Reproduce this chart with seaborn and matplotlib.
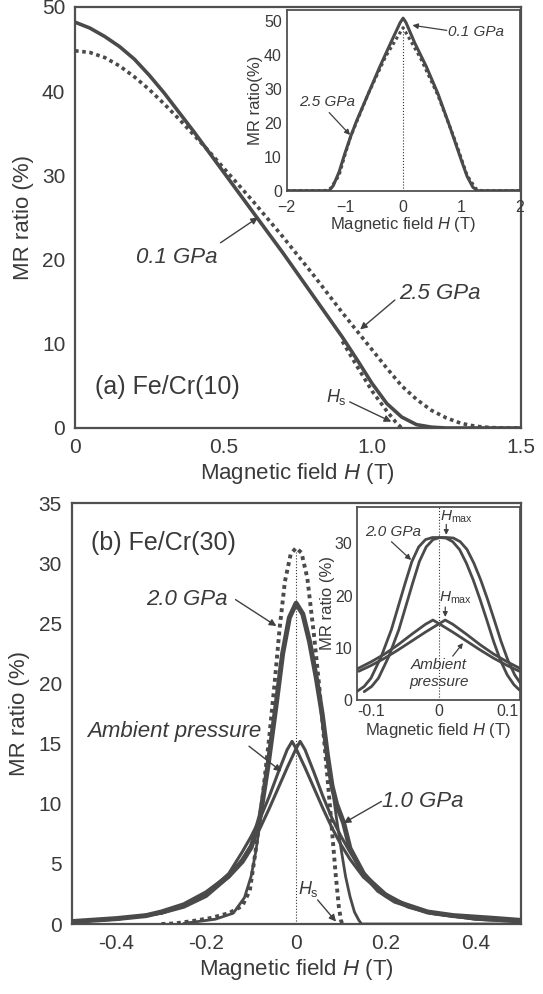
import numpy as np
import pandas as pd
import matplotlib
matplotlib.use("Agg")
import matplotlib.pyplot as plt
from matplotlib.ticker import MultipleLocator
import seaborn as sns

# ---------------- data ----------------
# Panel (a) Fe/Cr(10)
a_H_01 = [0, 0.05, 0.1, 0.15, 0.2, 0.25, 0.3, 0.35, 0.4, 0.45, 0.5, 0.55, 0.6, 0.65, 0.7, 0.75, 0.8, 0.85,
          0.9, 0.95, 1.0, 1.05, 1.1, 1.15, 1.2, 1.25, 1.5]
a_MR_01 = [48.2, 47.5, 46.5, 45.3, 43.8, 41.9, 39.8, 37.5, 35.2, 32.8, 30.4, 28.0, 25.6, 23.2, 20.8, 18.3, 15.8, 13.3,
           10.8, 8.1, 5.3, 2.9, 1.3, 0.4, 0.1, 0.0, 0.0]
a_H_25 = [0, 0.05, 0.1, 0.15, 0.2, 0.25, 0.3, 0.35, 0.4, 0.45, 0.5, 0.55, 0.6, 0.65, 0.7, 0.75, 0.8, 0.85,
          0.9, 0.95, 1.0, 1.05, 1.1, 1.15, 1.2, 1.25, 1.3, 1.35, 1.4, 1.45, 1.5]
a_MR_25 = [44.8, 44.6, 44.0, 43.0, 41.7, 40.2, 38.5, 36.7, 34.8, 32.9, 30.9, 28.9, 26.9, 24.8, 22.7, 20.5, 18.3, 16.0,
           13.7, 11.5, 9.3, 7.1, 5.0, 3.4, 2.1, 1.2, 0.55, 0.2, 0.05, 0.0, 0.0]
a_H_fit = [0.9, 0.95, 1.0, 1.05, 1.08, 1.1]
a_MR_fit = [10.3, 7.3, 4.4, 2.0, 0.7, 0.0]

# Inset (a)
ai_H_01 = [-2, -1.4, -1.27, -1.2, -1.1, -1.0, -0.9, -0.8, -0.6, -0.4, -0.2, -0.05, 0, 0.05, 0.2, 0.4, 0.6, 0.8,
           0.9, 1.0, 1.1, 1.2, 1.28, 2]
ai_MR_01 = [0, 0, 0, 1.5, 5.5, 11.0, 16.0, 20.5, 28.5, 36.5, 44.0, 49.5, 50.8, 49.5, 43.5, 36.5, 28.5, 19.0,
            14.0, 9.0, 4.2, 1.0, 0, 0]
ai_H_25 = [-2, -1.35, -1.25, -1.1, -1.0, -0.9, -0.6, -0.3, 0, 0.3, 0.6, 0.9, 1.0, 1.1, 1.25, 1.35, 2]
ai_MR_25 = [0, 0, 0.6, 4.5, 10.5, 16.0, 28.5, 39.5, 48.0, 39.0, 28.0, 14.5, 9.5, 4.5, 0.6, 0, 0]

# Panel (b) Fe/Cr(30)
b_H_20 = [-0.30, -0.27, -0.23, -0.19, -0.15, -0.12, -0.103, -0.089, -0.075, -0.06, -0.048, -0.037, -0.025, -0.012, 0,
          0.012, 0.025, 0.04, 0.051, 0.062, 0.075, 0.088, 0.095, 0.1, 0.103]
b_MR_20 = [0.0, 0.05, 0.25, 0.5, 0.9, 1.5, 2.8, 6.4, 10.5, 15.5, 20.0, 24.5, 28.5, 30.8, 31.3,
           30.9, 28.8, 24.0, 20.0, 15.5, 10.0, 4.2, 1.5, 0.3, 0.0]
b_H_10 = [-0.5, -0.4, -0.334, -0.3, -0.25, -0.2, -0.15, -0.12, -0.1, -0.08, -0.063, -0.045, -0.03, -0.015, 0,
          0.015, 0.03, 0.045, 0.058, 0.07, 0.08, 0.09, 0.106, 0.12, 0.15, 0.183, 0.22, 0.293, 0.35, 0.44, 0.5]
b_MR_10 = [0.2, 0.45, 0.7, 1.0, 1.6, 2.6, 4.0, 5.2, 6.4, 9.0, 13.1, 18.1, 22.5, 25.5, 26.7,
           25.8, 23.5, 20.5, 17.5, 14.0, 11.5, 10.0, 8.4, 6.3, 4.2, 2.8, 1.9, 1.0, 0.7, 0.47, 0.3]
b_H_10b = [-0.25, -0.18, -0.14, -0.115, -0.1, -0.09, -0.08, -0.07, -0.06, -0.045, -0.03, -0.015, 0,
           0.015, 0.03, 0.045, 0.058, 0.07, 0.08, 0.09, 0.1, 0.11, 0.12, 0.13, 0.14, 0.146, 0.5]
b_MR_10b = [0.05, 0.4, 0.9, 2.2, 4.0, 6.0, 8.5, 11.5, 14.3, 18.1, 22.5, 25.5, 26.7,
            25.8, 23.5, 20.5, 17.5, 14.0, 11.5, 8.8, 6.3, 4.0, 2.3, 1.0, 0.3, 0.0, 0.0]
b_H_amb = [-0.5, -0.4, -0.3, -0.25, -0.2, -0.15, -0.12, -0.1, -0.08, -0.06, -0.04, -0.02, -0.009, 0,
           0.02, 0.04, 0.06, 0.08, 0.1, 0.12, 0.15, 0.2, 0.25, 0.3, 0.4, 0.5]
b_MR_amb = [0.2, 0.4, 0.9, 1.5, 2.5, 4.2, 6.0, 7.3, 8.8, 10.6, 12.6, 14.5, 15.2, 14.6,
            13.0, 11.3, 9.6, 8.0, 6.6, 5.4, 3.9, 2.3, 1.4, 0.9, 0.4, 0.2]

# Inset (b)
bi_H_20 = [-0.121, -0.11, -0.1, -0.085, -0.07, -0.06, -0.05, -0.04, -0.03, -0.02, -0.01, 0, 0.01, 0.02,
           0.03, 0.04, 0.05, 0.06, 0.07, 0.08, 0.09, 0.1, 0.11, 0.118]
bi_MR_20 = [1.6, 2.6, 4.2, 8.3, 13.5, 17.9, 22.3, 26.5, 29.3, 30.7, 31.1, 31.1, 31.0, 30.3,
            28.8, 26.2, 23.0, 19.3, 15.3, 11.2, 7.6, 4.8, 2.9, 1.9]
bi_H_amb = [-0.121, -0.1, -0.08, -0.06, -0.04, -0.02, -0.009, 0, 0.02, 0.04, 0.06, 0.08, 0.1, 0.118]
bi_MR_amb = [5.9, 7.3, 8.8, 10.6, 12.6, 14.5, 15.3, 14.6, 13.0, 11.3, 9.6, 8.0, 6.6, 5.5]

# ---------------- style ----------------
sns.set_theme(style="white")
plt.rcParams['font.family'] = ['Liberation Sans', 'DejaVu Sans']
plt.rcParams['mathtext.fontset'] = 'custom'
plt.rcParams['mathtext.rm'] = 'Liberation Sans'
plt.rcParams['mathtext.it'] = 'Liberation Sans:italic'

LC = '#4a4a4a'
TC = '#3a3a3a'

fig = plt.figure(figsize=(5.43, 9.94), dpi=100)
W, Hh = 543.0, 994.0


def box(l, t, r, b):
    return [l / W, 1 - b / Hh, (r - l) / W, (b - t) / Hh]


axA = fig.add_axes(box(75, 7, 520.5, 428))
axAi = fig.add_axes(box(286.7, 10, 519.5, 190.7))
axB = fig.add_axes(box(71.7, 503.5, 520.5, 924))
axBi = fig.add_axes(box(356.7, 506.7, 519.5, 700))


def style_ax(ax, lw, tsize, maj, mino, pad):
    for s in ax.spines.values():
        s.set_linewidth(lw)
        s.set_color('#505050')
    ax.tick_params(which='both', direction='in', top=False, right=False, colors='#505050',
                   labelcolor=TC, labelsize=tsize, pad=pad)
    ax.tick_params(which='major', length=maj, width=1)
    ax.tick_params(which='minor', length=mino, width=0.9)
    ax.set_facecolor('white')


def line(ax, x, y, lw, ls='-', color=LC, z=3):
    sns.lineplot(x=x, y=y, ax=ax, color=color, lw=lw, linestyle=ls, estimator=None,
                 sort=False, zorder=z, legend=False)


def arrow(ax, start, tip, lw=1.0, ms=10):
    ax.annotate('', xy=tip, xytext=start,
                arrowprops=dict(arrowstyle='-|>', color='#404040', lw=lw, shrinkA=0, shrinkB=0,
                                mutation_scale=ms))

DOT = (0, (1, 1))

# ---------------- panel (a) ----------------
line(axA, a_H_01, a_MR_01, 2.6)
line(axA, a_H_25, a_MR_25, 2.6, DOT)
line(axA, a_H_fit, a_MR_fit, 2.6, DOT)
axA.set_xlim(0, 1.5)
axA.set_ylim(0, 50)
style_ax(axA, 1.6, 15, 5, 3, 7)
axA.xaxis.set_major_locator(MultipleLocator(0.5))
axA.xaxis.set_minor_locator(MultipleLocator(0.05))
axA.yaxis.set_major_locator(MultipleLocator(10))
axA.yaxis.set_minor_locator(MultipleLocator(2))
axA.set_xticks([0, 0.5, 1.0, 1.5])
axA.set_xticklabels(['0', '0.5', '1.0', '1.5'])
axA.set_xlabel(r'Magnetic field $\mathit{H}$ (T)', fontsize=16, color=TC, labelpad=3)
axA.set_ylabel('MR ratio (%)', fontsize=16, color=TC, labelpad=6)
axA.text(0.068, 4.9, '(a) Fe/Cr(10)', fontsize=18, color=TC, va='center', ha='left')
axA.text(0.342, 20.2, '0.1 GPa', fontsize=16, style='italic', color=TC, ha='center', va='center')
arrow(axA, (0.49, 22.0), (0.616, 25.0))
axA.text(1.228, 16.0, '2.5 GPa', fontsize=16, style='italic', color=TC, ha='center', va='center')
arrow(axA, (1.077, 15.2), (0.96, 11.7))
axA.text(0.88, 3.7, r'$H_\mathrm{s}$', fontsize=13, color=TC, ha='center', va='center')
arrow(axA, (0.925, 3.1), (1.065, 0.75))

# ---------------- inset (a) ----------------
line(axAi, ai_H_01, ai_MR_01, 2.2, z=3)
line(axAi, ai_H_25, ai_MR_25, 2.2, DOT, z=4)
axAi.plot([0, 0], [0, 48], color='#333333', lw=0.8, ls=':', zorder=2)
axAi.set_xlim(-2, 2)
axAi.set_ylim(0, 53.2)
style_ax(axAi, 1.3, 11.5, 4, 2.5, 3)
axAi.tick_params(axis='x', pad=6.5)
axAi.tick_params(axis='y', pad=3.5)
axAi.xaxis.set_major_locator(MultipleLocator(1))
axAi.xaxis.set_minor_locator(MultipleLocator(0.5))
axAi.yaxis.set_major_locator(MultipleLocator(10))
axAi.yaxis.set_minor_locator(MultipleLocator(5))
axAi.set_xlabel(r'Magnetic field $\mathit{H}$ (T)', fontsize=12, color=TC, labelpad=0)
axAi.set_ylabel('MR ratio(%)', fontsize=12, color=TC, labelpad=1)
axAi.text(0.77, 46.8, '0.1 GPa', fontsize=11, style='italic', color=TC, ha='left', va='center')
arrow(axAi, (0.75, 47.2), (0.16, 48.7), lw=0.9, ms=8)
axAi.text(-1.30, 26.2, '2.5 GPa', fontsize=11, style='italic', color=TC, ha='center', va='center')
arrow(axAi, (-1.27, 23.0), (-0.91, 16.4), lw=0.9, ms=8)

# ---------------- panel (b) ----------------
axB.plot([0, 0], [0, 31], color='#333333', lw=0.8, ls=':', zorder=2)
line(axB, b_H_10b, b_MR_10b, 2.0)
line(axB, b_H_amb, b_MR_amb, 2.2)
line(axB, [-h for h in b_H_amb], b_MR_amb, 2.2)
line(axB, b_H_10, b_MR_10, 3.6)
line(axB, b_H_20, b_MR_20, 2.8, DOT, z=4)
axB.set_xlim(-0.5, 0.5)
axB.set_ylim(0, 35)
style_ax(axB, 1.6, 15, 5, 3, 7)
axB.set_xticks([-0.4, -0.2, 0, 0.2, 0.4])
axB.set_xticklabels(['-0.4', '-0.2', '0', '0.2', '0.4'])
axB.xaxis.set_minor_locator(MultipleLocator(0.1))
axB.yaxis.set_major_locator(MultipleLocator(5))
axB.yaxis.set_minor_locator(MultipleLocator(1))
axB.set_xlabel(r'Magnetic field $\mathit{H}$ (T)', fontsize=16, color=TC, labelpad=3)
axB.set_ylabel('MR ratio (%)', fontsize=16, color=TC, labelpad=6)
axB.text(-0.456, 31.7, '(b) Fe/Cr(30)', fontsize=18, color=TC, va='center', ha='left')
axB.text(-0.244, 27.0, '2.0 GPa', fontsize=16, style='italic', color=TC, ha='center', va='center')
arrow(axB, (-0.135, 27.0), (-0.044, 24.8))
axB.text(-0.271, 16.0, 'Ambient pressure', fontsize=16, style='italic', color=TC, ha='center', va='center')
arrow(axB, (-0.105, 14.8), (-0.033, 12.7))
axB.text(0.282, 10.2, '1.0 GPa', fontsize=16, style='italic', color=TC, ha='center', va='center')
arrow(axB, (0.19, 10.2), (0.106, 8.4))
axB.text(0.028, 2.9, r'$H_\mathrm{s}$', fontsize=13, color=TC, ha='center', va='center')
arrow(axB, (0.048, 2.0), (0.089, 0.2))

# ---------------- inset (b) ----------------
axBi.plot([0, 0], [0, 37], color='#333333', lw=0.8, ls=':', zorder=2)
line(axBi, bi_H_20, bi_MR_20, 2.0)
line(axBi, [h + 0.011 for h in bi_H_20], bi_MR_20, 2.0)
line(axBi, bi_H_amb, bi_MR_amb, 2.0)
line(axBi, [-h for h in bi_H_amb], bi_MR_amb, 2.0)
axBi.set_xlim(-0.121, 0.118)
axBi.set_ylim(0, 37)
style_ax(axBi, 1.3, 11.5, 4, 2.5, 3)
axBi.set_xticks([-0.1, 0, 0.1])
axBi.set_xticklabels(['-0.1', '0', '0.1'])
axBi.xaxis.set_minor_locator(MultipleLocator(0.05))
axBi.yaxis.set_major_locator(MultipleLocator(10))
axBi.yaxis.set_minor_locator(MultipleLocator(5))
axBi.set_xlabel(r'Magnetic field $\mathit{H}$ (T)', fontsize=12, color=TC, labelpad=1)
axBi.set_ylabel('MR ratio (%)', fontsize=12, color=TC, labelpad=0)
axBi.text(-0.068, 32.2, '2.0 GPa', fontsize=11, style='italic', color=TC, ha='center', va='center')
arrow(axBi, (-0.07, 30.3), (-0.041, 26.8), lw=0.9, ms=8)
axBi.text(0.026, 35.1, r'$H_\mathrm{max}$', fontsize=11, color=TC, ha='center', va='center')
arrow(axBi, (0.0105, 33.6), (0.0105, 31.6), lw=0.9, ms=7)
axBi.text(0.024, 19.5, r'$H_\mathrm{max}$', fontsize=11, color=TC, ha='center', va='center')
arrow(axBi, (0.009, 17.8), (0.009, 15.9), lw=0.9, ms=7)
axBi.text(0.0, 6.7, 'Ambient', fontsize=11, style='italic', color=TC, ha='center', va='center')
axBi.text(0.0, 3.4, 'pressure', fontsize=11, style='italic', color=TC, ha='center', va='center')
arrow(axBi, (0.02, 8.4), (0.035, 10.9), lw=0.9, ms=7)

fig.savefig('out.png', dpi=100, facecolor='white')
